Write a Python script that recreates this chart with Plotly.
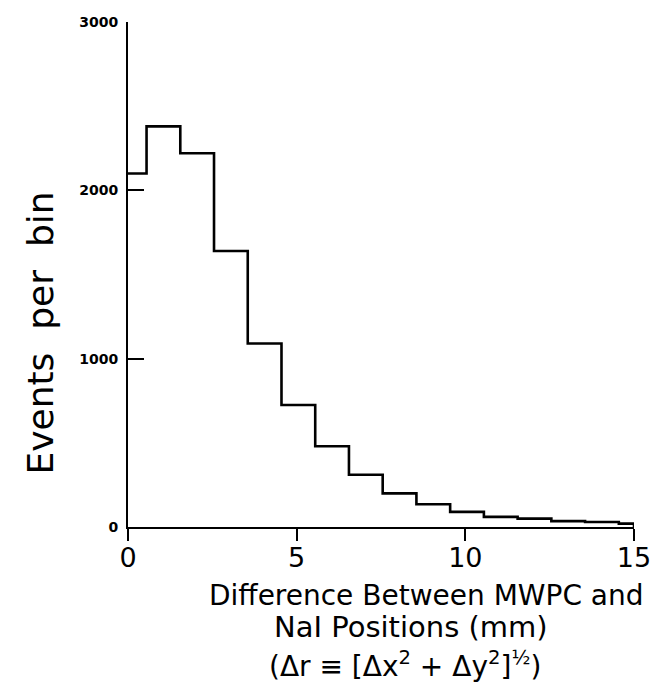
import plotly.graph_objects as go

# Histogram of the distance between MWPC and NaI reconstructed positions
bin_edges = [0, 0.55, 1.55, 2.55, 3.55, 4.55, 5.55, 6.55, 7.55, 8.55,
             9.55, 10.55, 11.55, 12.55, 13.55, 14.55, 15]
counts = [2100, 2380, 2220, 1640, 1090, 725, 480, 310, 200, 135,
          90, 60, 50, 35, 30, 20]

y_ticks = [0, 1000, 2000, 3000]
y_tick_labels = ["0", "1000", "2000", "3000"]
x_ticks = [0, 5, 10, 15]
x_tick_labels = ["0", "5", "10", "15"]

x_title_lines = [
    "Difference Between MWPC and",
    "NaI Positions (mm)",
    "(Δr ≡ [Δx<sup>2</sup> + Δy<sup>2</sup>]<sup>½</sup>)",
]
y_title = "Events  per  bin"

# step outline: each count starts at its left edge, closes at the right end
step_x = bin_edges + [bin_edges[-1]]
step_y = counts + [counts[-1], 0]

FONT = "DejaVu Sans"

fig = go.Figure()
fig.add_trace(go.Scatter(
    x=step_x, y=step_y, mode="lines", line_shape="hv",
    line=dict(color="black", width=2.6), hoverinfo="skip", showlegend=False,
))

fig.update_layout(
    width=663, height=683,
    margin=dict(l=128, r=24, t=22, b=156),
    paper_bgcolor="white", plot_bgcolor="white",
    font=dict(family=FONT, color="black"),
    xaxis=dict(
        range=[0, 15], tickvals=x_ticks, ticktext=x_tick_labels,
        showgrid=False, zeroline=False, showline=True, linecolor="black",
        linewidth=2, ticks="outside", ticklen=12, tickwidth=2,
        tickcolor="black", tickfont=dict(size=27, family=FONT),
        ticklabelstandoff=-6,
    ),
    yaxis=dict(
        range=[0, 3000], tickvals=y_ticks, ticktext=y_tick_labels,
        showgrid=False, zeroline=False, showline=True, linecolor="black",
        linewidth=2, ticks="inside", ticklen=16, tickwidth=2,
        tickcolor="black", tickfont=dict(size=14, family=FONT, weight="bold"),
        ticklabelstandoff=5,
    ),
)

fig.add_annotation(
    text=y_title, xref="paper", yref="paper",
    x=-0.173, y=0.384, textangle=-90, showarrow=False,
    font=dict(size=36, family=FONT), xanchor="center", yanchor="middle",
)

# three centred lines of the horizontal axis title
title_pos = [(0.589, -0.135), (0.560, -0.198), (0.548, -0.272)]
title_size = [28, 29, 28]
for line, (px, py), sz in zip(x_title_lines, title_pos, title_size):
    fig.add_annotation(
        text=line, xref="paper", yref="paper", x=px, y=py,
        showarrow=False, font=dict(size=sz, family=FONT),
        xanchor="center", yanchor="middle",
    )

fig.write_html("out.html")
